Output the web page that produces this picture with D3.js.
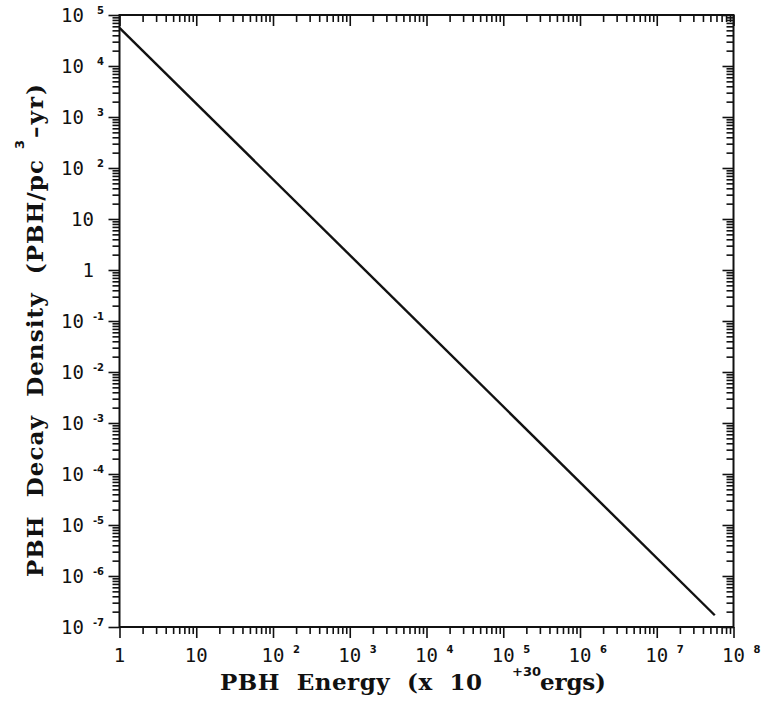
<!DOCTYPE html>
<meta charset="utf-8">
<head>
    <script src="https://d3js.org/d3.v7.min.js"></script>
    <style>
        body { margin: 0; background: #fff; }
        .tick-label { font-family: "DejaVu Sans Mono", monospace; font-size: 19px; fill: #111; }
        .tick-exp { font-family: "DejaVu Sans", sans-serif; font-size: 10px; font-weight: bold; fill: #111; }
        .title { font-family: "DejaVu Serif", serif; font-size: 23px; font-weight: bold; fill: #111; white-space: pre; }
        .title-sup { font-family: "DejaVu Sans", sans-serif; font-size: 13px; font-weight: bold; fill: #111; }
    </style>
</head>
<body>
<div id="chart"></div>

<script>
    // the curve (end points of the straight log-log line)
    const energy = [1, 5.7e7]
    const density = [5.6e4, 1.7e-7]

    // major ticks and their labels
    const xMajor = [1, 1e1, 1e2, 1e3, 1e4, 1e5, 1e6, 1e7, 1e8]
    const xBase = ["1", "10", "10", "10", "10", "10", "10", "10", "10"]
    const xExp = ["", "", "2", "3", "4", "5", "6", "7", "8"]

    const yMajor = [1e5, 1e4, 1e3, 1e2, 1e1, 1, 1e-1, 1e-2, 1e-3, 1e-4, 1e-5, 1e-6, 1e-7]
    const yBase = ["10", "10", "10", "10", "10", "1", "10", "10", "10", "10", "10", "10", "10"]
    const yExp = ["5", "4", "3", "2", "", "", "-1", "-2", "-3", "-4", "-5", "-6", "-7"]

    const plotLeft = 119.5, plotRight = 733.5, plotTop = 15, plotBottom = 627

    const svg = d3.select("#chart").append("svg")
        .attr("width", 770)
        .attr("height", 710)

    svg.append("rect").attr("width", 770).attr("height", 710).attr("fill", "#fff")

    const x = d3.scaleLog()
        .domain([1, 1e8])
        .range([plotLeft, plotRight])

    const y = d3.scaleLog()
        .domain([1e-7, 1e5])
        .range([plotBottom, plotTop])

    // minor ticks 2..9 in every decade
    function minors(lo, hi) {
        let out = []
        for (let e = lo; e < hi; e++) {
            for (let m = 2; m <= 9; m++) out.push(m * Math.pow(10, e))
        }
        return out
    }
    const xMinor = minors(0, 8)
    const yMinor = minors(-7, 5)

    // every side has its ticks pointing the same way as the plotter drew them
    function addAxis(axis, tx, ty) {
        const g = svg.append("g")
            .attr("transform", `translate(${tx}, ${ty})`)
            .call(axis)
        g.select(".domain").remove()
        g.selectAll(".tick line").attr("stroke", "#111").attr("stroke-width", 1.6)
        g.selectAll(".tick text").remove()
    }

    addAxis(d3.axisBottom(x).tickValues(xMinor).tickSize(7), 0, plotBottom)
    addAxis(d3.axisBottom(x).tickValues(xMajor).tickSize(11), 0, plotBottom)
    addAxis(d3.axisBottom(x).tickValues(xMinor).tickSize(7), 0, plotTop)
    addAxis(d3.axisBottom(x).tickValues(xMajor).tickSize(11), 0, plotTop)
    addAxis(d3.axisLeft(y).tickValues(yMinor).tickSize(7), plotLeft, 0)
    addAxis(d3.axisLeft(y).tickValues(yMajor).tickSize(11), plotLeft, 0)
    addAxis(d3.axisLeft(y).tickValues(yMinor).tickSize(7), plotRight, 0)
    addAxis(d3.axisLeft(y).tickValues(yMajor).tickSize(11), plotRight, 0)

    // frame
    svg.append("rect")
        .attr("x", plotLeft)
        .attr("y", plotTop)
        .attr("width", plotRight - plotLeft)
        .attr("height", plotBottom - plotTop)
        .attr("fill", "none")
        .attr("stroke", "#111")
        .attr("stroke-width", 2)

    // x tick labels
    xMajor.forEach((v, i) => {
        svg.append("text")
            .attr("class", "tick-label")
            .attr("x", x(v))
            .attr("y", plotBottom + 35)
            .attr("text-anchor", "middle")
            .text(xBase[i])
        if (xExp[i]) {
            svg.append("text")
                .attr("class", "tick-exp")
                .attr("x", x(v) + 20)
                .attr("y", plotBottom + 26)
                .text(xExp[i])
        }
    })

    // y tick labels
    yMajor.forEach((v, i) => {
        if (yExp[i]) {
            svg.append("text")
                .attr("class", "tick-label")
                .attr("x", 84)
                .attr("y", y(v) + 7)
                .attr("text-anchor", "end")
                .text(yBase[i])
            svg.append("text")
                .attr("class", "tick-exp")
                .attr("x", 104)
                .attr("y", y(v) - 1)
                .attr("text-anchor", "end")
                .text(yExp[i])
        } else {
            svg.append("text")
                .attr("class", "tick-label")
                .attr("x", 94)
                .attr("y", y(v) + 7)
                .attr("text-anchor", "end")
                .text(yBase[i])
        }
    })

    // the line
    const pts = energy.map((e, i) => [e, density[i]])
    svg.append("path")
        .datum(pts)
        .attr("fill", "none")
        .attr("stroke", "#111")
        .attr("stroke-width", 2.4)
        .attr("d", d3.line()
            .x(d => x(d[0]))
            .y(d => y(d[1])))

    // x axis title
    svg.append("text")
        .attr("class", "title")
        .attr("x", 220)
        .attr("y", 690)
        .attr("textLength", 262)
        .attr("lengthAdjust", "spacing")
        .text("PBH  Energy  (x  10")
    svg.append("text")
        .attr("class", "title-sup")
        .attr("x", 512)
        .attr("y", 676)
        .text("+30")
    svg.append("text")
        .attr("class", "title")
        .attr("x", 540)
        .attr("y", 690)
        .attr("textLength", 66)
        .attr("lengthAdjust", "spacing")
        .text("ergs)")

    // y axis title
    svg.append("text")
        .attr("class", "title")
        .attr("transform", "translate(43, 577) rotate(-90)")
        .attr("textLength", 417)
        .attr("lengthAdjust", "spacing")
        .text("PBH  Decay  Density  (PBH/pc")
    svg.append("text")
        .attr("class", "title-sup")
        .attr("transform", "translate(24, 149) rotate(-90)")
        .text("3")
    svg.append("text")
        .attr("class", "title")
        .attr("transform", "translate(43, 138) rotate(-90)")
        .attr("textLength", 54)
        .attr("lengthAdjust", "spacing")
        .text("\u2013yr)")
</script>
</body>
